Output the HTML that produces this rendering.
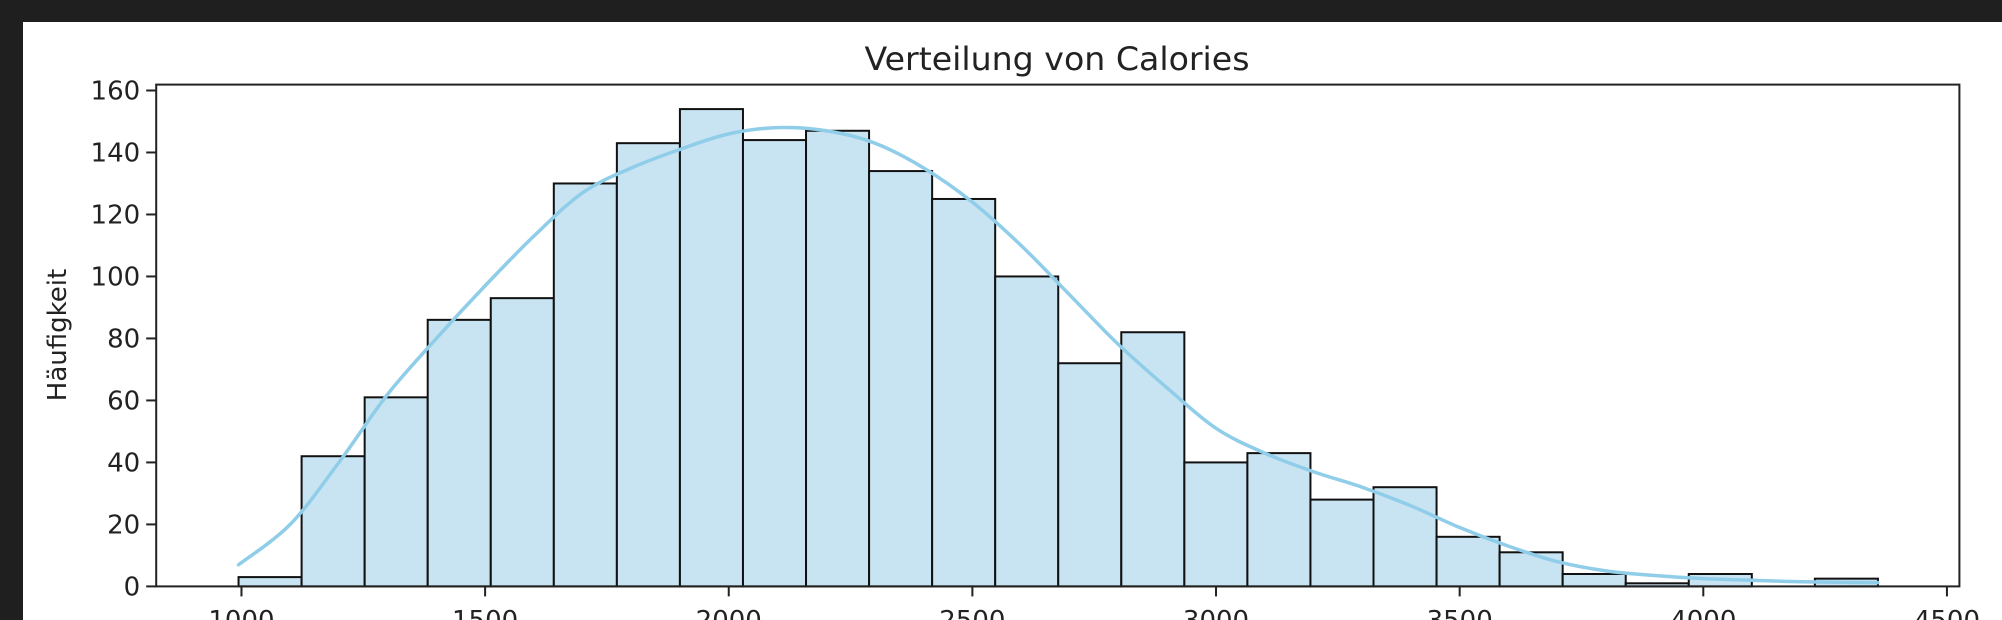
<!DOCTYPE html>
<html><head><meta charset="utf-8"><style>
html,body{margin:0;padding:0;background:#1f1f1f;}
svg{display:block;}
text{font-family:"DejaVu Sans","Liberation Sans",sans-serif;fill:#222;}
</style></head><body>
<svg id="chart" width="2002" height="620" xmlns="http://www.w3.org/2000/svg">
<rect x="0" y="0" width="2002" height="620" fill="#1f1f1f"/>
<rect x="23" y="22" width="1979" height="598" fill="#ffffff"/>
<text x="1057" y="70" font-size="32" text-anchor="middle" textLength="385" lengthAdjust="spacingAndGlyphs">Verteilung von Calories</text>
<text x="0" y="0" font-size="26" text-anchor="middle" transform="translate(66,335) rotate(-90)">Häufigkeit</text>
<g id="bars"></g>
<g id="kde"></g>
<g id="yaxis"></g>
<g id="xaxis"></g>
<rect x="156.2" y="84.6" width="1803.2" height="501.8" fill="none" stroke="#222" stroke-width="2"/>
</svg>
<script>
const binStart = 994;
const binWidth = 129.4;
const counts = [3,42,61,86,93,130,143,154,144,147,134,125,100,72,82,40,43,28,32,16,11,4,1,4,0,2.5];
const kdeX = [994,1100,1200,1300,1400,1500,1600,1700,1800,1900,2000,2100,2200,2300,2400,2500,2600,2700,2800,2900,3000,3100,3200,3300,3400,3500,3600,3700,3800,3900,4000,4100,4200,4358];
const kdeY = [7,20,40,62,80,97,113,127,135,141,146,148,147,143,135,124,110,94,78,64,51,43,37,32,26,19,13,8,5,3.5,2.5,2,1.5,1.2];
const yTicks = [0,20,40,60,80,100,120,140,160];
const xTicks = [1000,1500,2000,2500,3000,3500,4000,4500];

const NS = "http://www.w3.org/2000/svg";
const L=156.2, R=1959.4, T=84.6, B=586.4;
const xMin=825, xMax=4525.6, yMin=0, yMax=161.9;
function sx(v){return L+(v-xMin)/(xMax-xMin)*(R-L);}
function sy(v){return B-(v-yMin)/(yMax-yMin)*(B-T);}
function mk(tag, attrs, parent){const e=document.createElementNS(NS,tag);for(const k in attrs)e.setAttribute(k,attrs[k]);parent.appendChild(e);return e;}

const gb=document.getElementById('bars');
counts.forEach((c,i)=>{
  const x0=sx(binStart+i*binWidth), x1=sx(binStart+(i+1)*binWidth);
  const r=mk('rect',{x:x0,y:sy(c),width:x1-x0,height:B-sy(c),fill:'#c8e4f2',stroke:'#111','stroke-width':2},gb);
  
  
});

const gk=document.getElementById('kde');
let pts=kdeX.map((x,i)=>[sx(x),sy(kdeY[i])]);
let d='M'+pts[0][0]+','+pts[0][1];
for(let i=0;i<pts.length-1;i++){
  const p0=pts[Math.max(0,i-1)],p1=pts[i],p2=pts[i+1],p3=pts[Math.min(pts.length-1,i+2)];
  const c1=[p1[0]+(p2[0]-p0[0])/6,p1[1]+(p2[1]-p0[1])/6];
  const c2=[p2[0]-(p3[0]-p1[0])/6,p2[1]-(p3[1]-p1[1])/6];
  d+=' C'+c1[0]+','+c1[1]+' '+c2[0]+','+c2[1]+' '+p2[0]+','+p2[1];
}
const kp=mk('path',{d:d,fill:'none',stroke:'#8fcde9','stroke-width':3.5,'stroke-linecap':'round'},gk);



const gy=document.getElementById('yaxis');
yTicks.forEach(v=>{
  const y=sy(v);
  const t=mk('line',{x1:L-10,x2:L,y1:y,y2:y,stroke:'#222','stroke-width':2},gy);
  
  
  const tx=mk('text',{x:L-16,y:y+9,'font-size':26,'text-anchor':'end'},gy);
  tx.textContent=v;
  
  
});
const gx=document.getElementById('xaxis');
xTicks.forEach(v=>{
  const x=sx(v);
  const t=mk('line',{x1:x,x2:x,y1:B,y2:B+10,stroke:'#222','stroke-width':2},gx);
  
  
  const tx=mk('text',{x:x,y:629,'font-size':26,'text-anchor':'middle'},gx);
  tx.textContent=v;
  
  
});
</script>
</body></html>
